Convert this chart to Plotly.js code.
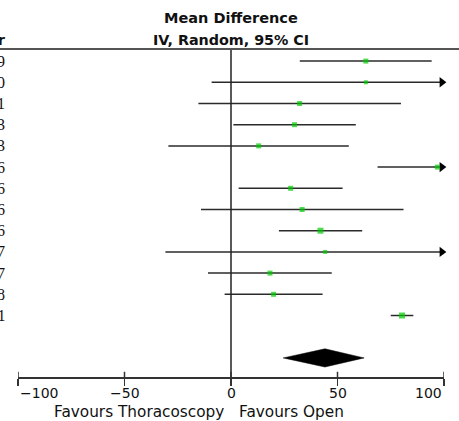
<!DOCTYPE html>
<html><head><meta charset="utf-8">
<script src="https://cdn.plot.ly/plotly-3.0.1.min.js"></script>
<style>html,body{margin:0;padding:0;background:#fff;} #chart text{-webkit-font-smoothing:antialiased;}</style>
</head><body><div id="chart" style="width:459px;height:421px;"></div>
<script>
// Data
const years   = ["1999","2000","2001","2003","2003","2006","2006","2006","2006","2007","2007","2008","2011"];
const meanDiff = [63.3, 63.3, 32.2, 29.8, 13.0, 96.9, 28.0, 33.4, 42.0, 44.2, 18.3, 20.0, 80.3];
const ciLow    = [32.3, -9.1, -15.3, 1.1, -29.4, 68.8, 3.6, -14.1, 22.5, -30.8, -10.8, -3.0, 75.0];
const ciHigh   = [94.2, 135.7, 79.8, 58.6, 55.3, 125.0, 52.4, 81.0, 61.6, 119.2, 47.3, 43.0, 85.6];
const markerSz = [5, 4, 5, 5, 5, 5, 5, 5, 6, 4, 5, 5, 6];
const pooled = {mean: 44.1, low: 24.5, high: 62.5};
const tickVals = [-100, -50, 0, 50, 100];
const tickText = ["\u2212100", "\u221250", "0", "50", "100"];
const xMin = -100, xMax = 100;

const rows = years.map((_, i) => i + 1);
const pooledRow = years.length + 2;

// CI lines
const lx = [], ly = [];
const arrX = [], arrY = [];
rows.forEach((r, i) => {
  lx.push(Math.max(ciLow[i], xMin), Math.min(ciHigh[i], xMax), null);
  ly.push(r, r, null);
  if (ciHigh[i] > xMax) { arrX.push(xMax - 1); arrY.push(r); }
});

const traces = [
  {x: lx, y: ly, mode: 'lines', line: {color: '#2b2b2b', width: 1.5}, hoverinfo: 'skip', cliponaxis: false},
  {x: arrX, y: arrY, mode: 'markers', marker: {symbol: 'triangle-right', size: 9, color: '#000'}, cliponaxis: false},
  {x: meanDiff, y: rows, mode: 'markers', marker: {symbol: 'square', size: markerSz, color: '#00cc00', line: {width: 0}}, cliponaxis: false},
  {x: [pooled.low, pooled.mean, pooled.high, pooled.mean, pooled.low],
   y: [pooledRow, pooledRow - 0.43, pooledRow, pooledRow + 0.43, pooledRow],
   mode: 'lines', fill: 'toself', fillcolor: '#000', line: {color: '#000', width: 0.5}}
];

const shapes = [
  {type: 'line', xref: 'x', yref: 'paper', x0: 0, x1: 0, y0: 0, y1: 1, line: {color: '#222', width: 1.5}},
  {type: 'line', xref: 'paper', yref: 'paper', x0: -0.1, x1: 1.1, y0: 1, y1: 1, line: {color: '#555', width: 2}}
];
tickVals.forEach(v => shapes.push({type: 'line', xref: 'x', yref: 'paper', x0: v, x1: v, y0: 0, y1: 0.016, line: {color: '#333', width: 1.5}}));

const annotations = [
  {text: '<b>Mean Difference</b>', xref: 'x', yref: 'paper', x: 0, y: 1.0945, showarrow: false, xanchor: 'center', yanchor: 'middle', font: {family: 'DejaVu Sans', size: 14.5, color: '#111'}},
  {text: '<b>IV, Random, 95% CI</b>', xref: 'x', yref: 'paper', x: 0, y: 1.0274, showarrow: false, xanchor: 'center', yanchor: 'middle', font: {family: 'DejaVu Sans', size: 14.3, color: '#111'}},
  {text: '<b>Year</b>', xref: 'paper', yref: 'paper', x: -0.0225, y: 1.0274, showarrow: false, xanchor: 'right', yanchor: 'middle', font: {family: 'DejaVu Sans', size: 14.5, color: '#111'}},
  {text: 'Favours Thoracoscopy', xref: 'x', yref: 'paper', x: -2.5, y: -0.106, showarrow: false, xanchor: 'right', yanchor: 'middle', font: {family: 'DejaVu Sans', size: 15.3, color: '#111'}},
  {text: 'Favours Open', xref: 'x', yref: 'paper', x: 3, y: -0.106, showarrow: false, xanchor: 'left', yanchor: 'middle', font: {family: 'DejaVu Sans', size: 15.3, color: '#111'}}
];
tickVals.forEach((v, i) => annotations.push({
  text: tickText[i], xref: 'x', yref: 'paper', x: v, y: -0.048, showarrow: false,
  xanchor: i === 0 ? 'left' : (i === tickVals.length - 1 ? 'right' : 'center'), yanchor: 'middle',
  font: {family: 'DejaVu Sans', size: 14, color: '#111'}
}));
years.forEach((yr, i) => annotations.push({
  text: yr, xref: 'paper', yref: 'y', x: -0.0258, y: rows[i], showarrow: false, xanchor: 'right', yanchor: 'middle',
  font: {family: 'Liberation Serif', size: 16, color: '#111'}
}));

const layout = {
  width: 459, height: 421,
  margin: {l: 18, r: 15, t: 49, b: 44},
  paper_bgcolor: '#fff', plot_bgcolor: '#fff',
  showlegend: false,
  xaxis: {range: [xMin, xMax], tickvals: tickVals, showticklabels: false, ticks: 'outside', ticklen: 7, tickwidth: 1.5, tickcolor: '#333',
          showline: true, linecolor: '#333', linewidth: 1.5, showgrid: false, zeroline: false, fixedrange: true},
  yaxis: {range: [15.9, 0.43], showticklabels: false, showgrid: false, zeroline: false, showline: false, ticks: '', fixedrange: true},
  shapes: shapes,
  annotations: annotations
};

Plotly.newPlot('chart', traces, layout, {displayModeBar: false, staticPlot: true});
</script>
</body></html>
